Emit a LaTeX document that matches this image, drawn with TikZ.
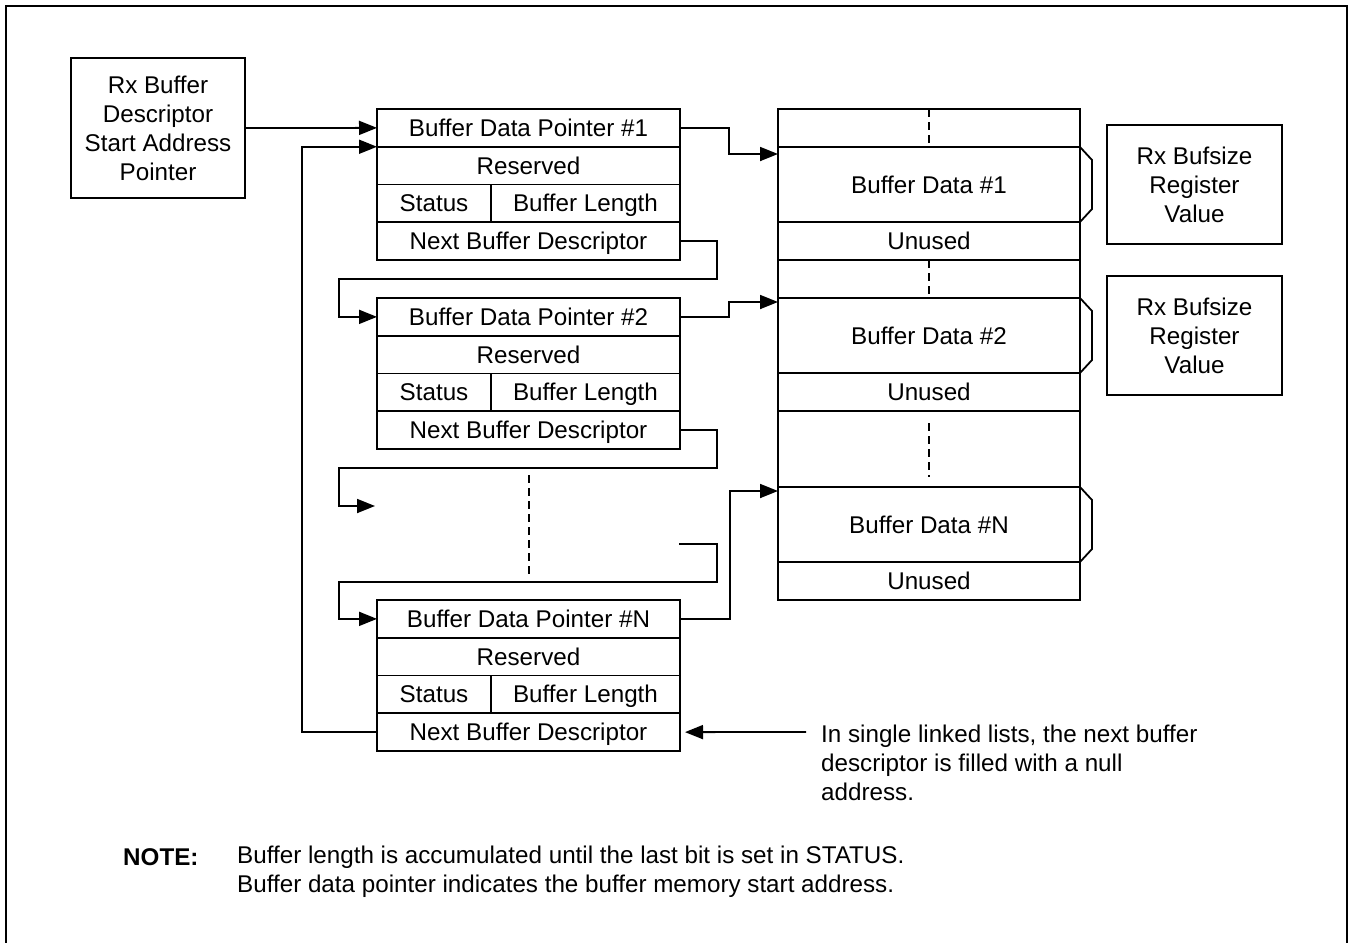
\documentclass[tikz,border=0pt]{standalone}
\usepackage{fontspec}
\setmainfont{Liberation Sans}
\usetikzlibrary{arrows.meta,calc}
\newcommand\myfs{\fontsize{24.2}{29}\selectfont}
\begin{document}
\begin{tikzpicture}[x=1pt,y=-1pt,
  lw/.style={line width=1.8pt},
  cell/.style={draw,lw,inner sep=0pt,outer sep=0pt,anchor=north west,font=\myfs,align=center},
  one/.style={text height=18pt,text depth=1pt},
  dcell/.style={cell,one,minimum width=303pt,minimum height=37.75pt},
  bcell/.style={cell,one,minimum width=302pt},
  scell/.style={cell,one,minimum width=114pt,minimum height=37.75pt},
  lcell/.style={cell,one,minimum width=189pt,minimum height=37.75pt},
  arr/.style={lw,-{Triangle[length=18pt,width=14pt]}},
  dashline/.style={lw,dash pattern=on 8pt off 5pt},
  txt/.style={font=\myfs,inner sep=0pt,align=left}]
\useasboundingbox (0,0) rectangle (1353,943);
\draw[lw] (6,960) -- (6,6) -- (1347,6) -- (1347,960);

% start pointer box
\node[cell,minimum width=174pt,minimum height=140pt] (s) at (71,58) {Rx Buffer\\Descriptor\\Start Address\\Pointer};

% descriptor 1
\node[dcell] (d1p) at (377,109) {Buffer Data Pointer \#1};
\node[dcell] (d1r) at (377,146.75) {Reserved};
\node[scell] (d1s) at (377,184.5) {Status};
\node[lcell] (d1l) at (491,184.5) {Buffer Length};
\node[dcell] (d1n) at (377,222.25) {Next Buffer Descriptor};

% descriptor 2
\node[dcell] (d2p) at (377,298) {Buffer Data Pointer \#2};
\node[dcell] (d2r) at (377,335.75) {Reserved};
\node[scell] (d2s) at (377,373.5) {Status};
\node[lcell] (d2l) at (491,373.5) {Buffer Length};
\node[dcell] (d2n) at (377,411.25) {Next Buffer Descriptor};

% descriptor N
\node[dcell] (dNp) at (377,600) {Buffer Data Pointer \#N};
\node[dcell] (dNr) at (377,637.75) {Reserved};
\node[scell] (dNs) at (377,675.5) {Status};
\node[lcell] (dNl) at (491,675.5) {Buffer Length};
\node[dcell] (dNn) at (377,713.25) {Next Buffer Descriptor};

% buffer memory column
\node[bcell,minimum height=38pt] (g1) at (778,109) {};
\node[bcell,minimum height=75pt] (b1) at (778,147) {Buffer Data \#1};
\node[bcell,minimum height=38pt] (u1) at (778,222) {Unused};
\node[bcell,minimum height=38pt] (g2) at (778,260) {};
\node[bcell,minimum height=75pt] (b2) at (778,298) {Buffer Data \#2};
\node[bcell,minimum height=38pt] (u2) at (778,373) {Unused};
\node[bcell,minimum height=76pt] (g3) at (778,411) {};
\node[bcell,minimum height=75pt] (bN) at (778,487) {Buffer Data \#N};
\node[bcell,minimum height=38pt] (uN) at (778,562) {Unused};

% braces
\foreach \b in {b1,b2,bN}{
  \draw[lw] (\b.north east) -- ++(12,13) -- ($(\b.south east)+(12,-13)$) -- (\b.south east);
}

% Rx Bufsize boxes
\node[cell,minimum width=175pt,minimum height=119pt] (r1) at (1107,125) {Rx Bufsize\\Register\\Value};
\node[cell,minimum width=175pt,minimum height=119pt] (r2) at (1107,276) {Rx Bufsize\\Register\\Value};

% dashed continuation lines
\draw[dashline] (g1.north) -- (g1.south);
\draw[dashline] (g2.north) -- (g2.south);
\draw[dashline] ($(g3.north)+(0,12)$) -- ($(g3.south)+(0,-10)$);
\coordinate (dd1) at (529,475);
\coordinate (dd2) at (529,576);
\draw[dashline] (dd1) -- (dd2);

% connectors
\draw[arr] (s.east) -- (d1p.west);
\draw[arr] (dNn.west) -- ++(-75,0) |- (d1p.south west);
\draw[arr] (d1p.east) -- ++(49,0) |- ($(b1.north west)+(0,7)$);
\draw[arr] (d2p.east) -- ++(49,0) |- ($(b2.north west)+(0,4)$);
\draw[arr] (dNp.east) -- ++(50,0) |- ($(bN.north west)+(0,4)$);
\draw[arr] (d1n.east) -| ($(d1n.south east)+(37,19)$) -| ($(d2p.west)+(-38,0)$) -- (d2p.west);
\coordinate (a1) at (375,506);
\draw[arr] (d2n.east) -| ($(d2n.south east)+(37,19)$) -| ($(a1)+(-36,0)$) -- (a1);
\coordinate (c2) at (679,544);
\draw[arr] (c2) -| (717,582) -| ($(dNp.west)+(-38,0)$) -- (dNp.west);

% note on null address
\node[txt,anchor=west] (nt) at (821,763) {In single linked lists, the next buffer\\descriptor is filled with a null\\address.};
\coordinate (ne) at (806,732);
\draw[arr,shorten >=5pt] (ne) -- (dNn.east);

% footnote
\node[txt,anchor=west,font=\myfs\bfseries] (note) at (123,857) {NOTE:};
\node[txt,anchor=west] (notet) at (237,871.5) {Buffer length is accumulated until the last bit is set in STATUS.\\Buffer data pointer indicates the buffer memory start address.};
\end{tikzpicture}
\end{document}
